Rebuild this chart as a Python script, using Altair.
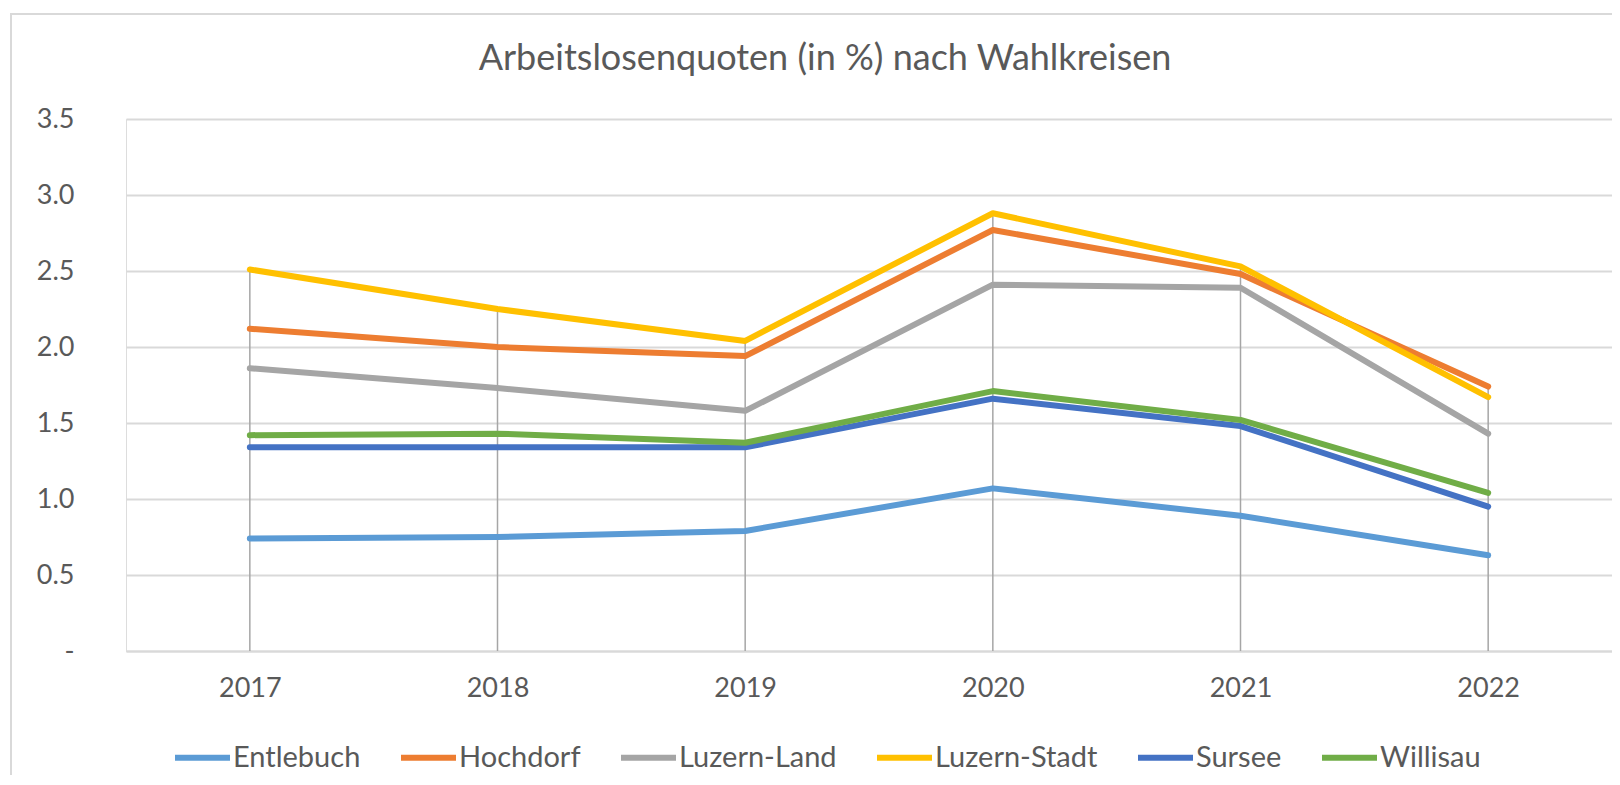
import altair as alt
import pandas as pd

years = ["2017", "2018", "2019", "2020", "2021", "2022"]
series_names = ["Entlebuch", "Hochdorf", "Luzern-Land", "Luzern-Stadt", "Sursee", "Willisau"]
series_colors = ["#5B9BD5", "#ED7D31", "#A5A5A5", "#FFC000", "#4472C4", "#70AD47"]

entlebuch = [0.74, 0.75, 0.79, 1.07, 0.89, 0.63]
hochdorf = [2.12, 2.00, 1.94, 2.77, 2.48, 1.74]
luzern_land = [1.86, 1.73, 1.58, 2.41, 2.39, 1.43]
luzern_stadt = [2.51, 2.25, 2.04, 2.88, 2.53, 1.67]
sursee = [1.34, 1.34, 1.34, 1.66, 1.48, 0.95]
willisau = [1.42, 1.43, 1.37, 1.71, 1.52, 1.04]

y_ticks = [0, 0.5, 1.0, 1.5, 2.0, 2.5, 3.0, 3.5]

all_values = [entlebuch, hochdorf, luzern_land, luzern_stadt, sursee, willisau]
rows = []
for name, vals in zip(series_names, all_values):
    for yr, v in zip(years, vals):
        rows.append({"year": yr, "series": name, "value": v})
df = pd.DataFrame(rows)

W, H = 1486, 532
TEXT = "#595959"
FONT = "Lato"

x_enc = alt.X(
    "year:O",
    sort=years,
    scale=alt.Scale(type="point", padding=0.5),
    axis=alt.Axis(
        title=None, labelAngle=0, labelFontSize=27, labelFont=FONT, labelColor=TEXT,
        ticks=False, grid=False, domain=True, domainColor="#d9d9d9", domainWidth=2,
        labelPadding=24,
    ),
)
y_scale = alt.Scale(domain=[0, 3.5], nice=False, zero=True)
y_axis = alt.Axis(
    title=None, values=y_ticks, labelFontSize=27, labelFont=FONT, labelColor=TEXT,
    ticks=False, domain=False, grid=True, gridColor="#d9d9d9", gridWidth=2,
    labelPadding=52,
    labelExpr="datum.value == 0 ? '-' : format(datum.value, '.1f')",
)

base = alt.Chart(df)

frame = base.transform_aggregate(n="count()").mark_rect(
    fillOpacity=0, stroke="#d9d9d9", strokeWidth=2
).encode(
    x=alt.value(-115), x2=alt.value(1530), y=alt.value(-105), y2=alt.value(720)
)

drops = base.transform_aggregate(
    maxv="max(value)", groupby=["year"]
).transform_calculate(zero="0").mark_rule(
    color="#a6a6a6", strokeWidth=1.5
).encode(
    x=x_enc,
    y=alt.Y("maxv:Q", scale=y_scale, axis=y_axis),
    y2="zero:Q",
)

lines = base.mark_line(strokeWidth=6, strokeCap="round", strokeJoin="round").encode(
    x=x_enc,
    y=alt.Y("value:Q", scale=y_scale, axis=y_axis),
    color=alt.Color(
        "series:N",
        scale=alt.Scale(domain=series_names, range=series_colors),
        sort=series_names,
        legend=alt.Legend(
            title=None, orient="none", legendX=46, legendY=608, direction="horizontal",
            columns=6, symbolType="stroke", symbolSize=3025, symbolStrokeWidth=6,
            labelFontSize=29, labelFont=FONT, labelColor=TEXT, labelOffset=0,
            labelLimit=400, columnPadding=28, padding=0,
        ),
    ),
    order=alt.Order("series:N"),
)

chart = alt.layer(frame, drops, lines).properties(
    width=W,
    height=H,
    padding={"left": 118, "top": 111, "right": 0, "bottom": 124},
    autosize=alt.AutoSizeParams(type="none"),
    title=alt.TitleParams(
        "Arbeitslosenquoten (in %) nach Wahlkreisen",
        fontSize=36, font=FONT, fontWeight="normal", color=TEXT,
        anchor="middle", dx=-44, baseline="alphabetic", offset=0, dy=93,
    ),
).configure_view(stroke=None).configure(font=FONT)

chart.save("out.html", embed_options={"renderer": "svg", "actions": False})
